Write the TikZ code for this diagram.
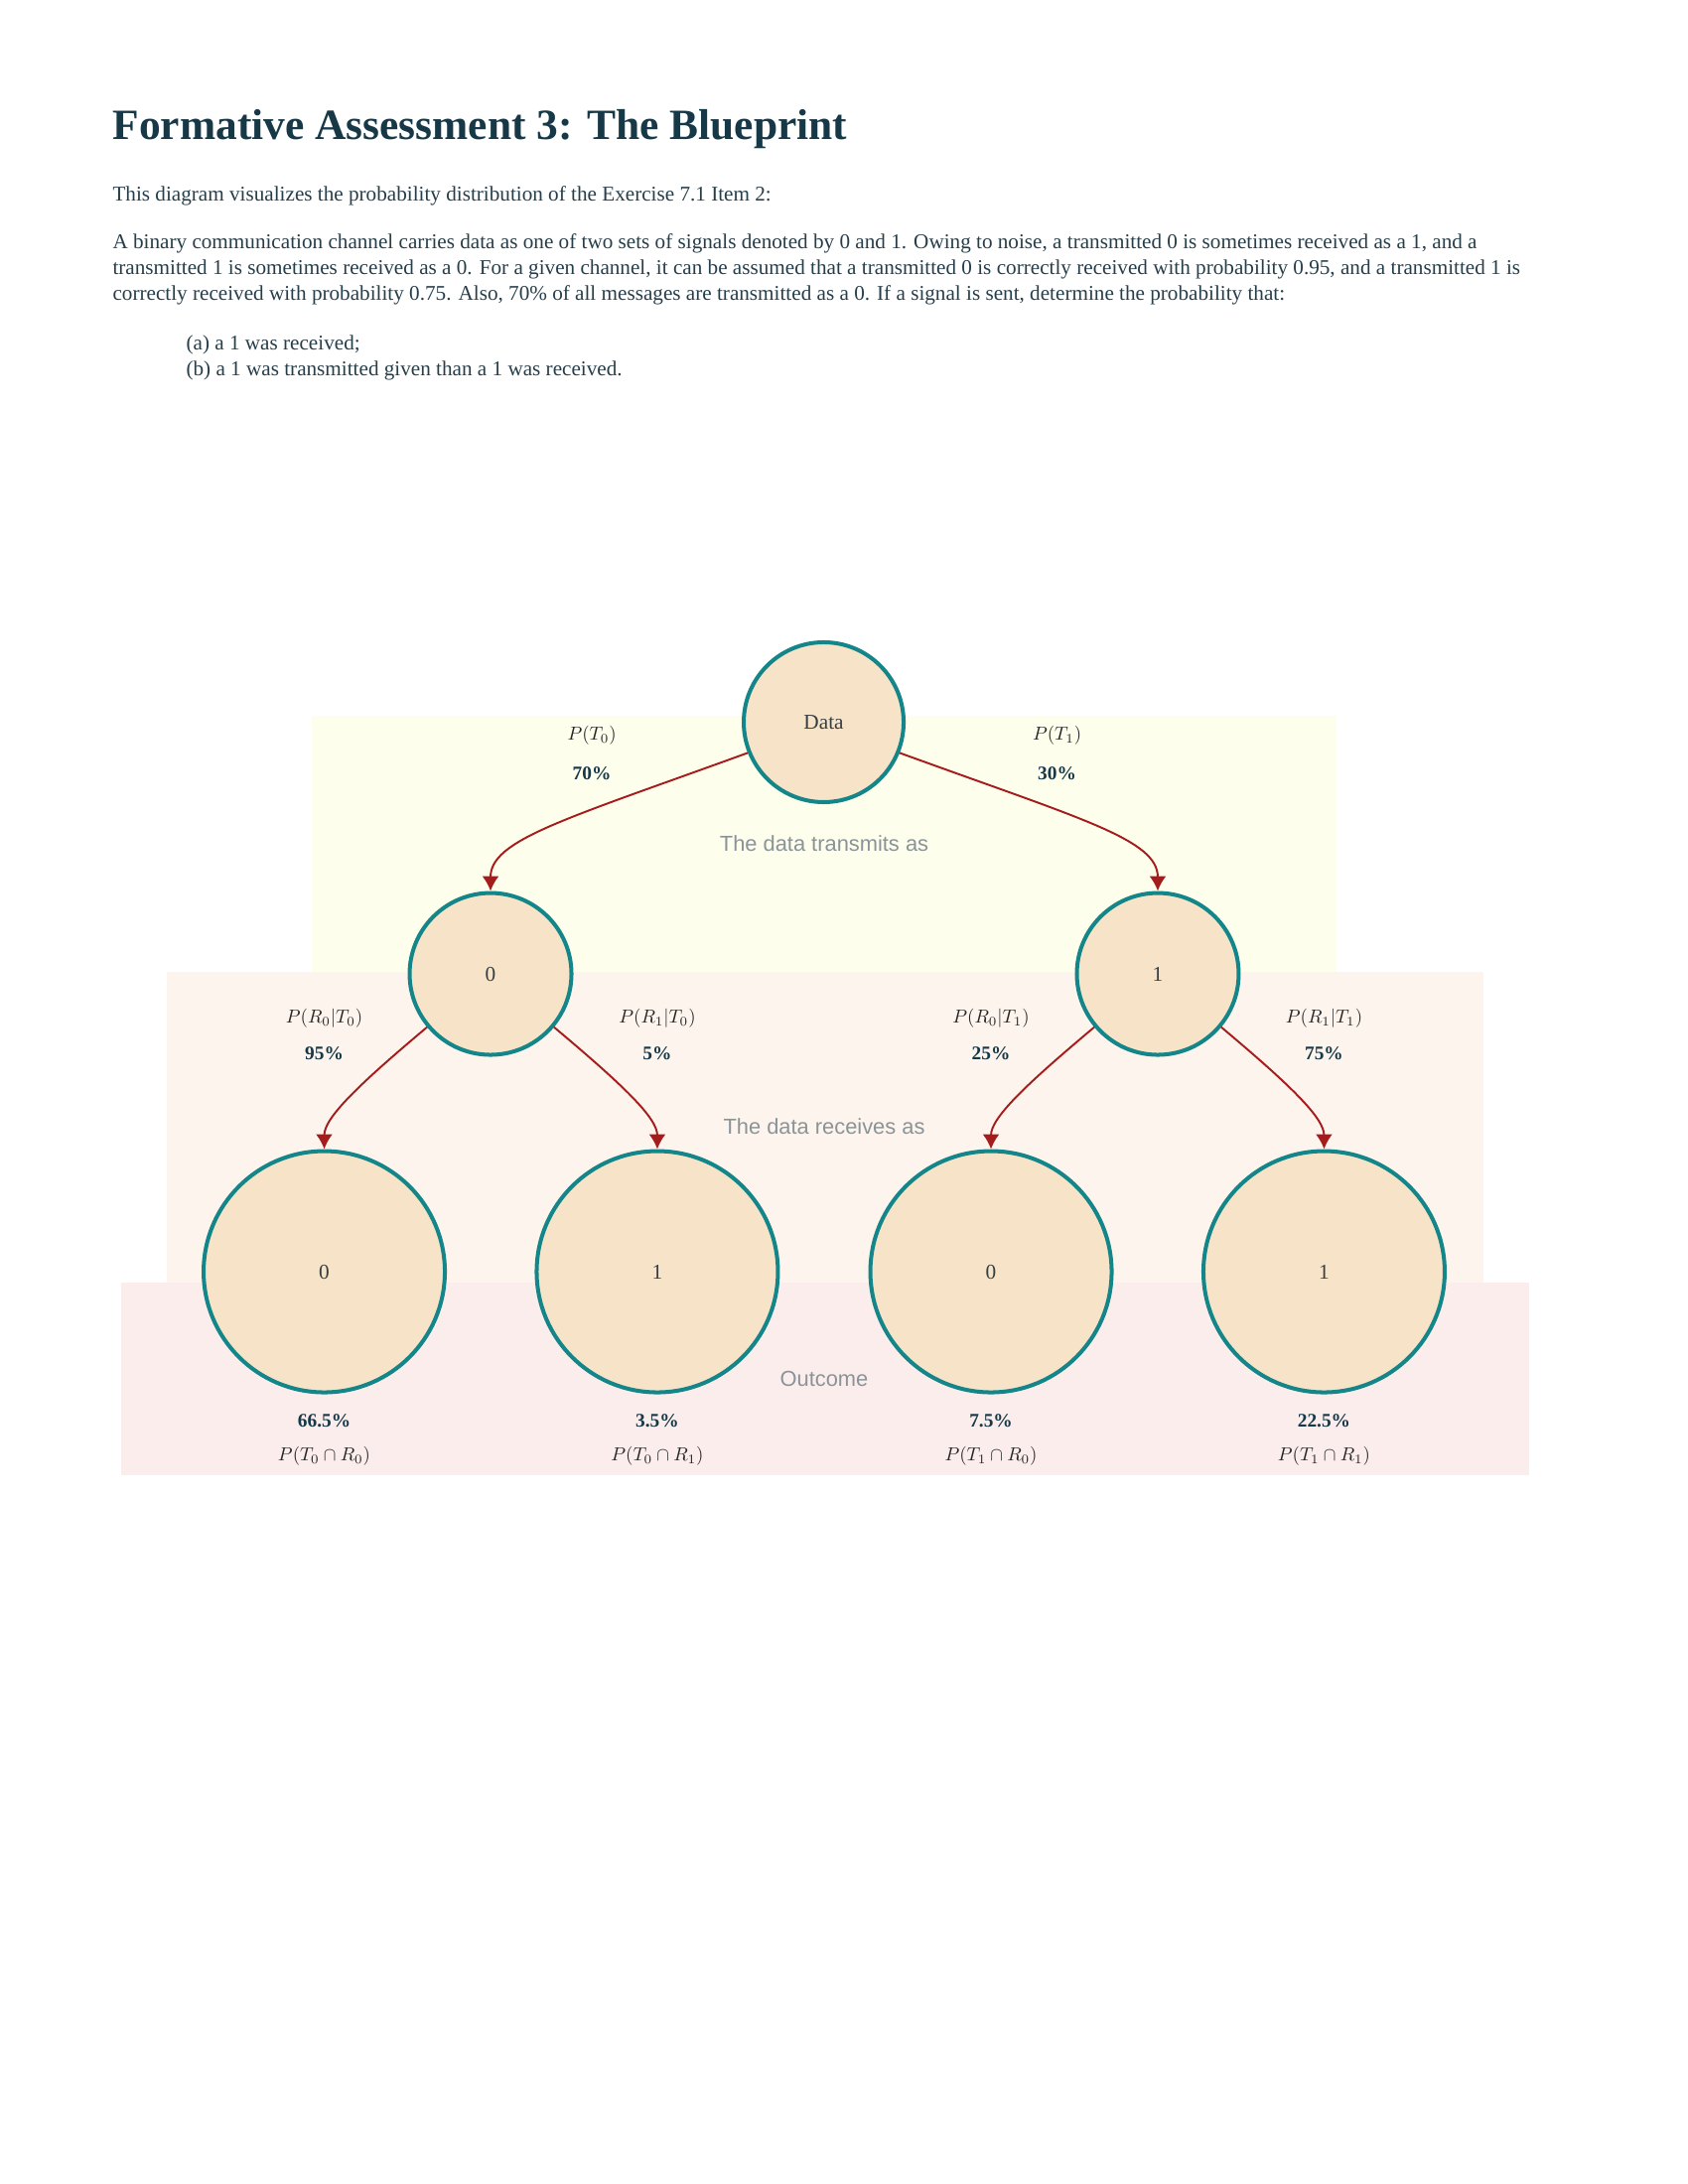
\documentclass[tikz,border=0pt]{standalone}
\usepackage{graphicx}
\usepackage{fontspec}
\newfontfamily\bodyfont{Liberation Serif}
\newfontfamily\tagfont{Liberation Sans}
\usetikzlibrary{arrows.meta}
\definecolor{inkblue}{RGB}{22,56,71}
\definecolor{bodyink}{RGB}{38,62,74}
\definecolor{nodeink}{RGB}{55,62,66}
\definecolor{tealring}{RGB}{20,134,137}
\definecolor{wheat}{RGB}{247,228,200}
\definecolor{arrowred}{RGB}{165,28,28}
\definecolor{greylab}{RGB}{138,148,152}
\definecolor{bandyellow}{RGB}{254,254,236}
\definecolor{bandpeach}{RGB}{253,245,237}
\definecolor{bandpink}{RGB}{252,237,237}
% math labels: 10pt design, scaled down
\newcommand{\probtxt}[1]{\scalebox{0.685}{$#1$}}

\begin{document}
\begin{tikzpicture}[
  every node/.style={inner sep=0pt},
  headline/.style={anchor=base west, text=inkblue, font=\bodyfont\bfseries\fontsize{15.7}{18}\selectfont},
  para/.style={anchor=base west, text=bodyink, font=\bodyfont\fontsize{7.65}{9}\selectfont},
  state/.style={circle, draw=tealring, line width=1.45pt, fill=wheat, text=nodeink, font=\bodyfont\fontsize{7.7}{9}\selectfont},
  problab/.style={text=black!85, font=\fontsize{10}{12}\selectfont},
  pctlab/.style={text=inkblue, font=\bodyfont\bfseries\fontsize{7}{8}\selectfont},
  bandlabel/.style={text=greylab, font=\tagfont\fontsize{7.9}{9}\selectfont},
  link/.style={->, >={Latex[length=5.4pt,width=6.1pt]}, draw=arrowred, line width=0.7pt}
]
\useasboundingbox (0,0) rectangle (21.59,-27.94);

% heading and exercise text
\node[headline] (title) at (1.435,-1.778) {Formative Assessment 3: The Blueprint};
\node[para] (intro) at (1.435,-2.578) {This diagram visualizes the probability distribution of the Exercise 7.1 Item 2:};
\node[para] (line1) at (1.435,-3.175) {A binary communication channel carries data as one of two sets of signals denoted by 0 and 1. Owing to noise, a transmitted 0 is sometimes received as a 1, and a};
\node[para] (line2) at (1.435,-3.512) {transmitted 1 is sometimes received as a 0. For a given channel, it can be assumed that a transmitted 0 is correctly received with probability 0.95, and a transmitted 1 is};
\node[para] (line3) at (1.435,-3.848) {correctly received with probability 0.75. Also, 70\% of all messages are transmitted as a 0. If a signal is sent, determine the probability that:};
\node[para] (itema) at (2.375,-4.483) {(a) a 1 was received;};
\node[para] (itemb) at (2.375,-4.801) {(b) a 1 was transmitted given than a 1 was received.};

% bands
\fill[bandyellow] (3.988,-9.157) rectangle (17.094,-12.433);
\fill[bandpeach] (2.134,-12.433) rectangle (18.974,-16.408);
\fill[bandpink] (1.549,-16.408) rectangle (19.558,-18.872);

\node[bandlabel] (transmits) at (10.541,-10.795) {The data transmits as};
\node[bandlabel] (receives) at (10.541,-14.415) {The data receives as};
\node[bandlabel] (outcome) at (10.541,-17.64) {Outcome};

% tree
\node[state, minimum size=2.045cm] (data) at (10.535,-9.239) {Data};
\node[state, minimum size=2.07cm] (t0) at (6.274,-12.459) {0};
\node[state, minimum size=2.07cm] (t1) at (14.808,-12.459) {1};
\node[state, minimum size=3.086cm] (t0r0) at (4.147,-16.269) {0};
\node[state, minimum size=3.086cm] (t0r1) at (8.407,-16.269) {1};
\node[state, minimum size=3.086cm] (t1r0) at (12.675,-16.269) {0};
\node[state, minimum size=3.086cm] (t1r1) at (16.935,-16.269) {1};

\draw[link] (data.202) to [out=200, in=90, out looseness=1.7, in looseness=0.45] (t0.north);
\draw[link] (data.-22) to [out=-20, in=90, out looseness=1.7, in looseness=0.45] (t1.north);
\draw[link] (t0.220) to [out=220, in=90, out looseness=1.45, in looseness=0.5] (t0r0.north);
\draw[link] (t0.-40) to [out=-40, in=90, out looseness=1.45, in looseness=0.5] (t0r1.north);
\draw[link] (t1.220) to [out=220, in=90, out looseness=1.45, in looseness=0.5] (t1r0.north);
\draw[link] (t1.-40) to [out=-40, in=90, out looseness=1.45, in looseness=0.5] (t1r1.north);

% branch labels
\node[problab] (pt0) at (7.57,-9.41) {\probtxt{P(T_0)}};
\node[pctlab] (v0) at (7.57,-9.893) {70\%};
\node[problab] (pt1) at (13.52,-9.41) {\probtxt{P(T_1)}};
\node[pctlab] (v1) at (13.52,-9.893) {30\%};

\node[problab] (pr0t0) at (4.147,-13.03) {\probtxt{P(R_0|T_0)}};
\node[pctlab] (v00) at (4.147,-13.475) {95\%};
\node[problab] (pr1t0) at (8.407,-13.03) {\probtxt{P(R_1|T_0)}};
\node[pctlab] (v01) at (8.407,-13.475) {5\%};
\node[problab] (pr0t1) at (12.675,-13.03) {\probtxt{P(R_0|T_1)}};
\node[pctlab] (v10) at (12.675,-13.475) {25\%};
\node[problab] (pr1t1) at (16.935,-13.03) {\probtxt{P(R_1|T_1)}};
\node[pctlab] (v11) at (16.935,-13.475) {75\%};

% outcomes
\node[pctlab] (o00) at (4.147,-18.174) {66.5\%};
\node[problab] (p00) at (4.147,-18.63) {\probtxt{P(T_0\cap R_0)}};
\node[pctlab] (o01) at (8.407,-18.174) {3.5\%};
\node[problab] (p01) at (8.407,-18.63) {\probtxt{P(T_0\cap R_1)}};
\node[pctlab] (o10) at (12.675,-18.174) {7.5\%};
\node[problab] (p10) at (12.675,-18.63) {\probtxt{P(T_1\cap R_0)}};
\node[pctlab] (o11) at (16.935,-18.174) {22.5\%};
\node[problab] (p11) at (16.935,-18.63) {\probtxt{P(T_1\cap R_1)}};

\end{tikzpicture}
\end{document}
